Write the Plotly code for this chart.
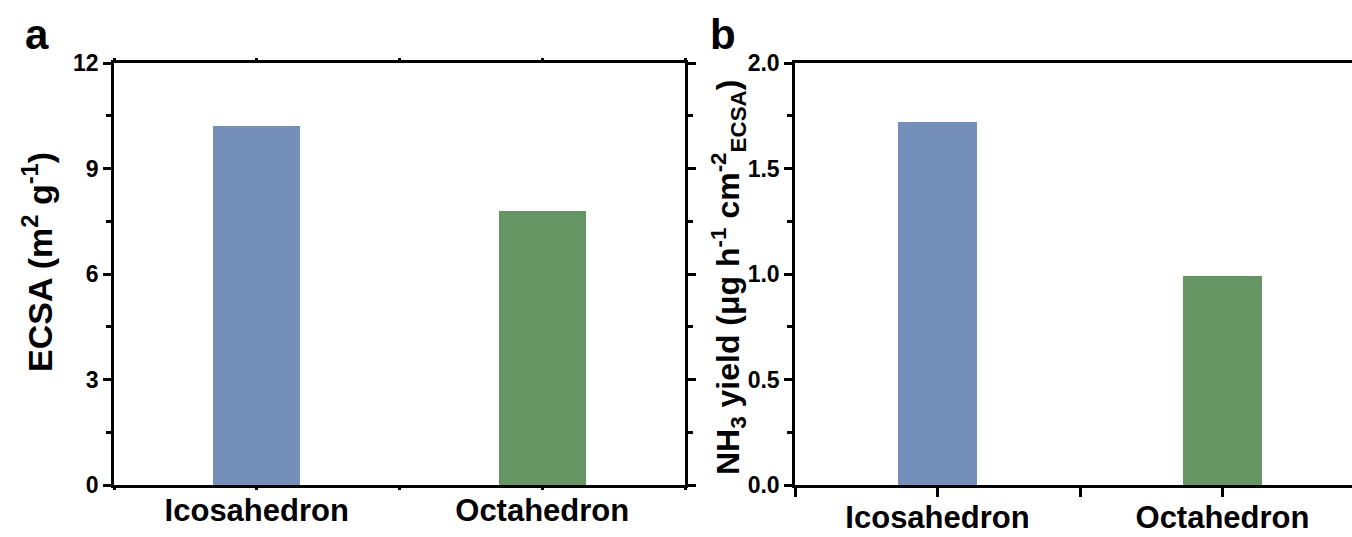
import plotly.graph_objects as go

# Shape categories and measured values
categories = ["Icosahedron", "Octahedron"]
ecsa = [10.2, 7.8]            # ECSA, m^2 g^-1
nh3_yield = [1.72, 0.99]      # NH3 yield normalised by ECSA
bar_colors = ["#7490BA", "#659563"]

W, H = 1352, 537
positions = [i + 1 for i in range(len(categories))]

label_font = dict(family="Arial, Liberation Sans", size=31, color="black", weight=700)
tick_font = dict(family="Arial, Liberation Sans", size=23, color="black", weight=700)

fig = go.Figure()
fig.add_trace(go.Bar(x=positions, y=ecsa, marker=dict(color=bar_colors, line=dict(width=0)),
                     width=0.305, xaxis="x", yaxis="y", showlegend=False))
fig.add_trace(go.Bar(x=positions, y=nh3_yield, marker=dict(color=bar_colors, line=dict(width=0)),
                     width=0.28, xaxis="x2", yaxis="y2", showlegend=False))

def px_x(p):
    return p / W

def px_y(p):
    return 1 - p / H

y_dom = [px_y(485), px_y(63)]
xt_vals = [0.5, 1, 1.5, 2, 2.5]
xt_text = ["", categories[0], "", categories[1], ""]

common_axis = dict(showline=True, linecolor="black", linewidth=2.5, showgrid=False,
                   zeroline=False, tickcolor="black", tickwidth=2.5, automargin=False)

fig.update_layout(
    width=W, height=H,
    margin=dict(l=0, r=0, t=0, b=0),
    paper_bgcolor="white", plot_bgcolor="white",
    bargap=0,
    xaxis=dict(domain=[px_x(114), px_x(685)], range=[0.5, 2.5], anchor="y",
               tickvals=xt_vals, ticktext=xt_text, ticks="outside", ticklen=2,
               mirror="allticks", tickfont=label_font, ticklabelstandoff=-6, **common_axis),
    yaxis=dict(domain=y_dom, range=[0, 12], anchor="x", tickvals=[0, 3, 6, 9, 12],
               ticks="outside", ticklen=8, mirror="allticks", tickfont=tick_font,
               minor=dict(ticks="outside", ticklen=5, tickvals=[1.5, 4.5, 7.5, 10.5],
                          tickcolor="black", tickwidth=2.5),
               **common_axis),
    xaxis2=dict(domain=[px_x(795), 1.0], range=[0.5, 0.5 + 557 / 285], anchor="y2",
                tickvals=xt_vals, ticktext=xt_text, ticks="outside", ticklen=9,
                mirror=True, tickfont=label_font, ticklabelstandoff=-6, **common_axis),
    yaxis2=dict(domain=y_dom, range=[0, 2.0], anchor="x2",
                tickvals=[0, 0.5, 1.0, 1.5, 2.0], ticktext=["0.0", "0.5", "1.0", "1.5", "2.0"],
                ticks="outside", ticklen=8, tickfont=tick_font,
                minor=dict(ticks="outside", ticklen=5, tickvals=[0.25, 0.75, 1.25, 1.75],
                           tickcolor="black", tickwidth=2.5),
                **common_axis),
)

letter_font = dict(family="Arial, Liberation Sans", size=42, color="black", weight=700)

annotations = [
    # panel letters
    dict(text="a", x=px_x(37), y=px_y(35), font=letter_font),
    dict(text="b", x=px_x(723), y=px_y(35), font=letter_font),
    # y-axis titles
    dict(text="ECSA (m<sup>2</sup> g<sup>-1</sup>)", x=px_x(37), y=px_y(262),
         textangle=-90,
         font=dict(family="Arial, Liberation Sans", size=34, color="black", weight=700)),
    dict(text="NH<sub>3</sub> yield (\u03bcg h<sup>-1</sup> cm<sup>-2</sup><sub>ECSA</sub>)",
         x=px_x(728), y=px_y(278), textangle=-90,
         font=dict(family="Arial, Liberation Sans", size=32, color="black", weight=700)),
]
for a in annotations:
    a.update(xref="paper", yref="paper", showarrow=False, xanchor="center", yanchor="middle")
fig.update_layout(annotations=annotations)

fig.write_html("out.html")
